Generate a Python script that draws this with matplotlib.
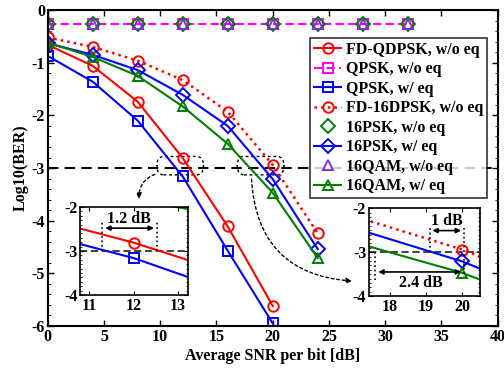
import numpy as np
import matplotlib
matplotlib.use("Agg")
import matplotlib.pyplot as plt
from matplotlib.patches import FancyBboxPatch
from matplotlib.ticker import MultipleLocator

plt.rcParams['font.family'] = ['Liberation Serif', 'DejaVu Serif']
plt.rcParams['font.weight'] = 'bold'
plt.rcParams['axes.unicode_minus'] = False

# SNR points and log10(BER) values
snr = [0, 4, 8, 12, 16, 20, 24]
snr_noeq = [0, 4, 8, 12, 16, 20, 24, 28, 32]

ber_fd_qdpsk = [-0.66, -1.06, -1.74, -2.81, -4.11, -5.62]
ber_qpsk_noeq = [-0.26] * 9
ber_qpsk_eq = [-0.87, -1.36, -2.10, -3.16, -4.57, -5.95]
ber_fd_16dpsk = [-0.52, -0.70, -0.96, -1.33, -1.93, -2.94, -4.24]
ber_16psk_noeq = [-0.26] * 9
ber_16psk_eq = [-0.63, -0.85, -1.14, -1.61, -2.20, -3.21, -4.54]
ber_16qam_noeq = [-0.26] * 9
ber_16qam_eq = [-0.62, -0.89, -1.25, -1.83, -2.54, -3.47, -4.71]

labels = ['FD-QDPSK, w/o eq', 'QPSK, w/o eq', 'QPSK, w/ eq', 'FD-16DPSK, w/o eq',
          '16PSK, w/o eq', '16PSK, w/ eq', '16QAM, w/o eq', '16QAM, w/ eq']

RED, MAG, BLUE, GREEN, PURP = '#ff0000', '#ff00ff', '#0000ff', '#008000', '#7e2fd6'
mk = dict(markersize=7.5, markeredgewidth=1.4, markerfacecolor='none')
FS = 11.5


def draw_series(ax):
    ax.plot(snr[:6], ber_fd_qdpsk, ls='-', color=RED, marker='o', lw=1.5, **mk)
    ax.plot(snr_noeq, ber_qpsk_noeq, ls='--', color=MAG, marker='s', lw=1.5, dashes=(4, 2), **mk)
    ax.plot(snr[:6], ber_qpsk_eq, ls='-', color=BLUE, marker='s', lw=1.5, **mk)
    ax.plot(snr, ber_fd_16dpsk, ls=':', color=RED, marker='o', lw=1.8, **mk)
    ax.plot(snr_noeq, ber_16psk_noeq, ls='none', color=GREEN, marker='D', **mk)
    ax.plot(snr, ber_16psk_eq, ls='-', color=BLUE, marker='D', lw=1.5, **mk)
    ax.plot(snr_noeq, ber_16qam_noeq, ls='none', color=PURP, marker='^', **mk)
    ax.plot(snr, ber_16qam_eq, ls='-', color=GREEN, marker='^', lw=1.5, **mk)


fig = plt.figure(figsize=(5.04, 3.73), dpi=100)
ax = fig.add_axes([0.0946, 0.126, 0.893, 0.847])
draw_series(ax)
ax.axhline(-3, color='black', ls='--', dashes=(5, 3), lw=1.5, zorder=1)
ax.set_xlim(0, 40)
ax.set_ylim(-6, 0)
ax.set_xticks(np.arange(0, 41, 5))
ax.set_yticks(np.arange(-6, 1, 1))
ax.yaxis.set_minor_locator(MultipleLocator(0.2))
ax.tick_params(direction='in', top=True, right=True, labelsize=FS, width=1, length=4, pad=2)
ax.tick_params(which='minor', direction='in', right=True, length=2)
for s in ax.spines.values():
    s.set_linewidth(1.5)
ax.set_xlabel('Average SNR per bit [dB]', fontsize=FS, fontweight='bold', labelpad=2.5)
ax.set_ylabel('Log10(BER)', fontsize=FS, fontweight='bold', labelpad=2)

leg = ax.legend(labels, loc='upper right', bbox_to_anchor=(0.977, 0.912), fontsize=FS,
                frameon=True, fancybox=False, edgecolor='black', handlelength=1.7,
                handletextpad=0.3, labelspacing=0.22, borderpad=0.25, borderaxespad=0)
leg.get_frame().set_linewidth(1.2)

# dashed boxes around the zoomed regions
for x0, x1 in [(9.7, 13.85), (16.85, 21.0)]:
    ax.add_patch(FancyBboxPatch((x0, -3.13), x1 - x0, 0.35,
                                boxstyle='round,pad=0,rounding_size=0.6',
                                fill=False, ls=(0, (2, 2)), lw=1, ec='black',
                                mutation_aspect=0.3))

arrow = dict(arrowstyle='-|>', ls=(0, (2, 2)), lw=1, color='black', mutation_scale=8)
ax.annotate('', xy=(8.15, -3.64), xytext=(9.75, -3.1),
            arrowprops=dict(connectionstyle='arc3,rad=0.4', **arrow))
ax.annotate('', xy=(27.3, -5.15), xytext=(18.1, -3.16),
            arrowprops=dict(connectionstyle='arc3,rad=0.45', **arrow))


def setup_inset(axi, xlim, xticks):
    draw_series(axi)
    axi.axhline(-3, color='#333333', ls='--', dashes=(4, 2), lw=1.3, zorder=1)
    axi.set_xlim(*xlim)
    axi.set_ylim(-4, -2)
    axi.set_xticks(xticks)
    axi.set_yticks([-4, -3, -2])
    axi.yaxis.set_minor_locator(MultipleLocator(0.1))
    axi.tick_params(direction='in', top=True, right=True, labelsize=FS, length=3, pad=2)
    axi.tick_params(which='minor', direction='in', right=True, length=1.5)
    for s in axi.spines.values():
        s.set_linewidth(1.2)


ins1 = fig.add_axes([0.159, 0.209, 0.214, 0.236])
setup_inset(ins1, (10.8, 13.22), [11, 12, 13])
dot = dict(color='black', ls=':', lw=1.2)
ins1.plot([11.3, 11.3], [-3, -2.35], **dot)
ins1.plot([12.52, 12.52], [-3, -2.35], **dot)
ins1.annotate('', xy=(11.3, -2.48), xytext=(12.52, -2.48),
              arrowprops=dict(arrowstyle='<|-|>', color='black', lw=1.2, mutation_scale=7))
ins1.text(11.9, -2.45, '1.2 dB', ha='center', va='bottom', fontsize=FS, fontweight='bold')

ins2 = fig.add_axes([0.732, 0.206, 0.220, 0.236])
setup_inset(ins2, (17.42, 20.49), [18, 19, 20])
ins2.plot([19.1, 19.1], [-3, -2.45], **dot)
ins2.plot([20.05, 20.05], [-2.45, -3.57], **dot)
ins2.plot([17.6, 17.6], [-3, -3.64], **dot)
ins2.annotate('', xy=(19.1, -2.51), xytext=(20.05, -2.51),
              arrowprops=dict(arrowstyle='<|-|>', color='black', lw=1.2, mutation_scale=7))
ins2.text(19.58, -2.48, '1 dB', ha='center', va='bottom', fontsize=FS, fontweight='bold')
ins2.annotate('', xy=(17.6, -3.45), xytext=(20.05, -3.45),
              arrowprops=dict(arrowstyle='<|-|>', color='black', lw=1.2, mutation_scale=7))
ins2.text(18.85, -3.52, '2.4 dB', ha='center', va='top', fontsize=FS, fontweight='bold')

fig.savefig('out.png', dpi=100)
